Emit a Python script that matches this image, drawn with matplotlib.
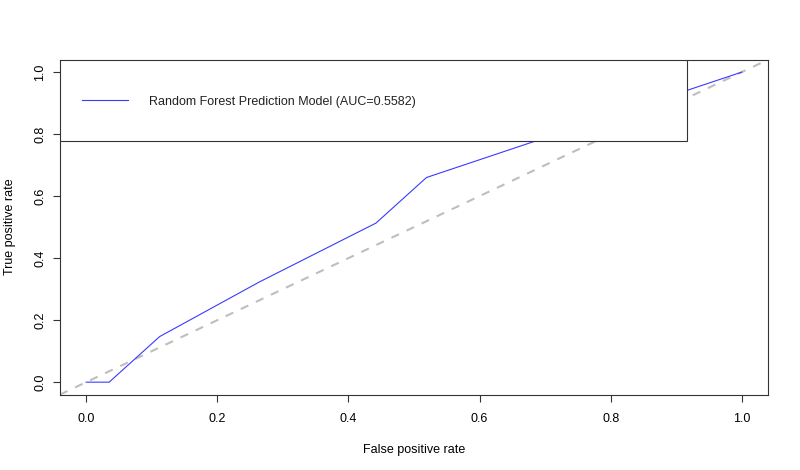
import matplotlib
matplotlib.use("Agg")
import matplotlib.pyplot as plt
from matplotlib.patches import Rectangle
from matplotlib.lines import Line2D

plt.rcParams['font.family'] = ['Liberation Sans', 'DejaVu Sans']

# ROC curve values
fpr = [0.0, 0.035, 0.112, 0.264, 0.442, 0.519, 0.690, 1.0]
tpr = [0.0, 0.0, 0.147, 0.323, 0.513, 0.660, 0.781, 1.0]
ref_x = [0.0, 1.0]
ref_y = [0.0, 1.0]
ticks = [0.0, 0.2, 0.4, 0.6, 0.8, 1.0]
tick_labels = ["0.0", "0.2", "0.4", "0.6", "0.8", "1.0"]
legend_label = "Random Forest Prediction Model (AUC=0.5582)"
xlabel = "False positive rate"
ylabel = "True positive rate"

fig = plt.figure(figsize=(8, 4.7), dpi=100)
ax = fig.add_axes([0.075, 0.1605, 0.885, 0.7125])

ax.plot(fpr, tpr, color='#3A3AFF', lw=0.8, zorder=3)
ax.axline((ref_x[0], ref_y[0]), (ref_x[1], ref_y[1]), color='#BEBEBE', lw=1.5,
          linestyle=(0, (4, 4)), zorder=2)

ax.set_xlim(-0.04, 1.04)
ax.set_ylim(-0.04, 1.04)
ax.set_xticks(ticks)
ax.set_xticklabels(tick_labels)
ax.set_yticks(ticks)
ax.set_yticklabels(tick_labels, rotation=90, va='center')
ax.tick_params(axis='both', direction='out', length=5, width=0.8, color='#333333',
               labelsize=9)
ax.tick_params(axis='x', pad=8)
ax.tick_params(axis='y', pad=5)
for s in ax.spines.values():
    s.set_color('#333333')
    s.set_linewidth(0.8)

ax.set_xlabel(xlabel, fontsize=9, labelpad=14)
ax.set_ylabel(ylabel, fontsize=9, labelpad=13)

# legend box (drawn like R legend)
rect = Rectangle((0.0, 0.758), 0.8856, 0.242, transform=ax.transAxes,
                 facecolor='white', edgecolor='#333333', lw=0.8, zorder=5)
ax.add_patch(rect)
ax.add_line(Line2D([0.0315, 0.0965], [0.879, 0.879], transform=ax.transAxes,
                   color='#3A3AFF', lw=0.8, zorder=6))
ax.text(0.126, 0.874, legend_label, transform=ax.transAxes, fontsize=9,
        va='center', ha='left', zorder=6, color='#222222')

fig.savefig("out.png", dpi=100)
